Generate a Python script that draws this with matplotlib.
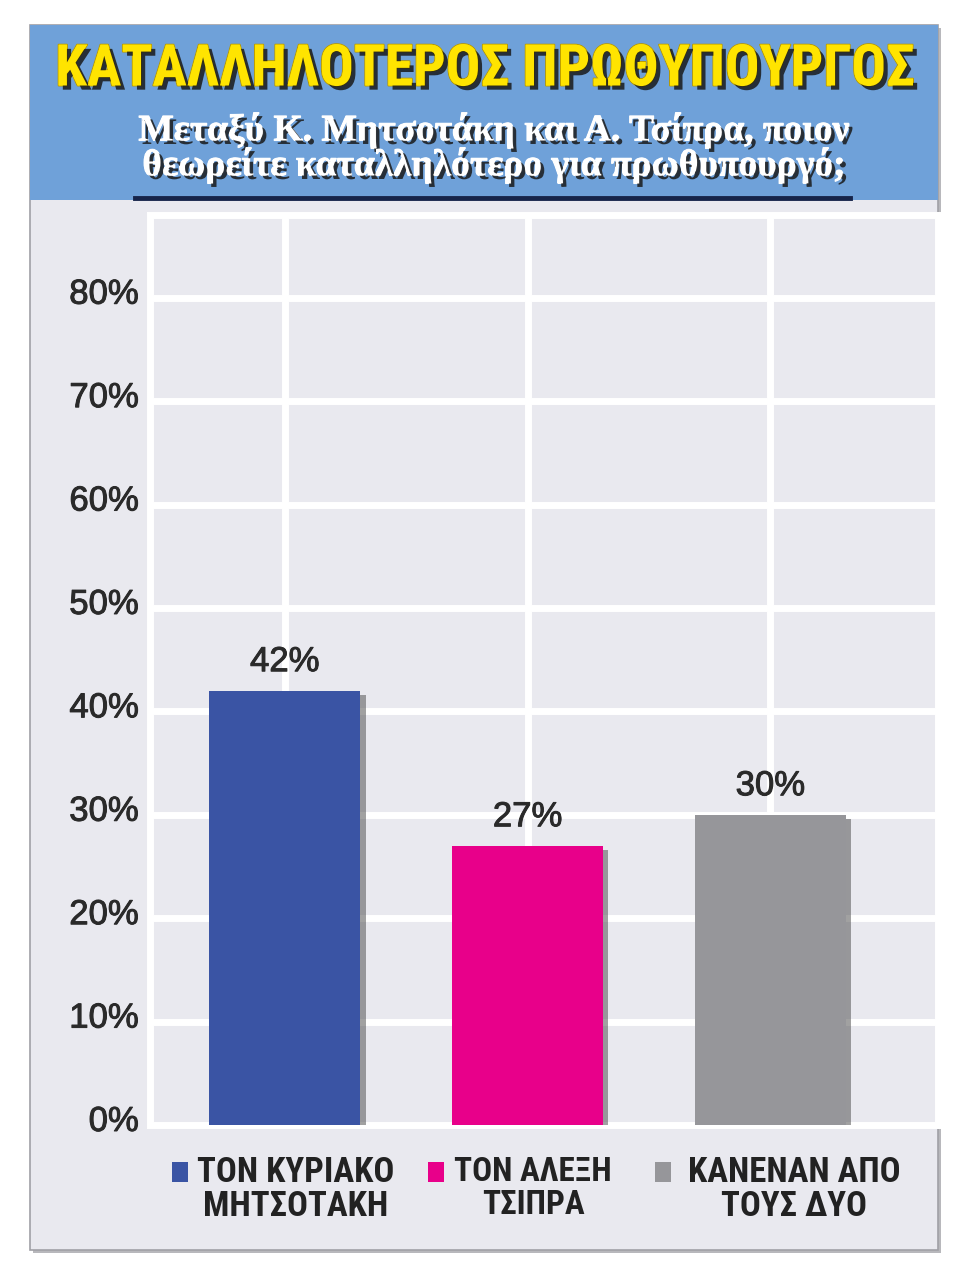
import matplotlib
matplotlib.use("Agg")
import matplotlib.pyplot as plt
from matplotlib.patches import Rectangle
from matplotlib.lines import Line2D
from matplotlib import patheffects as pe
from matplotlib.transforms import ScaledTranslation

# ---- data ----
categories = ["ΤΟΝ ΚΥΡΙΑΚΟ\nΜΗΤΣΟΤΑΚΗ", "ΤΟΝ ΑΛΕΞΗ\nΤΣΙΠΡΑ", "ΚΑΝΕΝΑΝ ΑΠΟ\nΤΟΥΣ ΔΥΟ"]
values = [42, 27, 30]
value_labels = ["42%", "27%", "30%"]
yticks = [0, 10, 20, 30, 40, 50, 60, 70, 80]
ytick_labels = ["0%", "10%", "20%", "30%", "40%", "50%", "60%", "70%", "80%"]
colors = ["#3a54a4", "#e8008a", "#96969a"]
title = "ΚΑΤΑΛΛΗΛΟΤΕΡΟΣ ΠΡΩΘΥΠΟΥΡΓΟΣ"
subtitle_lines = ["Μεταξύ Κ. Μητσοτάκη και Α. Τσίπρα, ποιον",
                  "θεωρείτε καταλληλότερο για πρωθυπουργό;"]

W, H = 962, 1277
fig = plt.figure(figsize=(W / 100, H / 100), dpi=100)
fig.patch.set_facecolor("white")


def fx(x):
    return x / W


def fy(y):
    return 1 - y / H


NARROW = ["Roboto Condensed", "Liberation Sans Narrow", "DejaVu Sans"]
SANS = ["Liberation Sans", "DejaVu Sans"]
SERIF = ["Liberation Serif", "DejaVu Serif"]


def fit(t, target_w):
    r = fig.canvas.get_renderer()
    w = t.get_window_extent(r).width
    if w > target_w:
        t.set_fontsize(t.get_fontsize() * target_w / w)


# panel shadow + panel
fig.add_artist(Rectangle((fx(33), fy(1253)), (938 - 30) / W, (1250 - 25) / H,
                         transform=fig.transFigure, facecolor="#b8b8bc",
                         edgecolor="none", zorder=-3))
fig.add_artist(Rectangle((fx(30), fy(1250)), (938 - 30) / W, (1250 - 25) / H,
                         transform=fig.transFigure, facecolor="#e9e9ef",
                         edgecolor="#a0a0a6", lw=1.2, zorder=-2))
# header
fig.add_artist(Rectangle((fx(30), fy(200)), (938 - 30) / W, (200 - 25) / H,
                         transform=fig.transFigure, facecolor="#6fa1d9",
                         edgecolor="none", zorder=-1))
fig.add_artist(Line2D([fx(135), fx(850)], [fy(198), fy(198)],
                      transform=fig.transFigure, color="#16244a", lw=3.5, zorder=1))

t_title = fig.text(fx(485), fy(70), title, ha="center", va="center", fontsize=42,
                   fontweight="heavy", fontstretch="condensed", color="#ffe400",
                   family=NARROW,
                   path_effects=[pe.withStroke(linewidth=1.4, foreground="#b89a00"),
                                 pe.withSimplePatchShadow(offset=(3, -3), shadow_rgbFace="#1a1a1a", alpha=0.85)])
fit(t_title, 860)

shadow = [pe.withStroke(linewidth=0.8, foreground="white"),
          pe.withSimplePatchShadow(offset=(2.5, -2.5), shadow_rgbFace="#1a1a1a", alpha=0.85)]
for i, line in enumerate(subtitle_lines):
    t = fig.text(fx(494), fy(130 + 35 * i), line, ha="center", va="center",
                 fontsize=27, fontweight="bold", color="white", family=SERIF,
                 path_effects=shadow)
    fit(t, 712)

# axes
ax = fig.add_axes([fx(150), fy(1125), (938 - 150) / W, (1125 - 215) / H])
ax.set_facecolor("#e9e9ef")
x = list(range(len(values)))
bars = ax.bar(x, values, width=0.62, color=colors, zorder=3,
              path_effects=[pe.SimplePatchShadow(offset=(4, -3), shadow_rgbFace="#555555", alpha=0.55),
                            pe.Normal()])
thick = [pe.withStroke(linewidth=0.7, foreground="#2a2a2a")]
for xi, v, lab in zip(x, values, value_labels):
    ax.annotate(lab, (xi, v), xytext=(0, 9), textcoords="offset points",
                ha="center", va="bottom", fontsize=25, color="#2a2a2a",
                family=SANS, zorder=4, path_effects=thick)

ax.set_xlim(-0.555, 2.69)
ax.set_ylim(0, 88)
ax.set_xticks(x)
ax.set_xticklabels([])
ax.set_yticks(yticks)
ax.set_yticklabels(ytick_labels, fontsize=25, color="#2a2a2a", family=SANS)
ax.tick_params(axis="both", length=0)
ax.tick_params(axis="y", pad=8)
off = ScaledTranslation(0, 0.07, fig.dpi_scale_trans)
for lab in ax.get_yticklabels():
    lab.set_transform(lab.get_transform() + off)
    lab.set_path_effects(thick)
ax.grid(True, color="white", lw=5)
ax.set_axisbelow(True)
for s in ax.spines.values():
    s.set_color("white")
    s.set_linewidth(5)

# legend (manual, squares aligned with first line)
leg_sq_x = [172, 428, 655]
leg_txt_cx = [296, 533, 794]
leg_w = [208, 158, 222]
for i, (cat, col) in enumerate(zip(categories, colors)):
    fig.add_artist(Rectangle((fx(leg_sq_x[i]), fy(1182)), 16 / W, 20 / H,
                             transform=fig.transFigure, facecolor=col,
                             edgecolor="none", zorder=2))
    t = fig.text(fx(leg_txt_cx[i]), fy(1156), cat, ha="center", va="top",
                 multialignment="center", fontsize=25, fontweight="bold",
                 fontstretch="condensed", color="#222222", family=NARROW,
                 linespacing=1.05)
    fit(t, leg_w[i])

fig.savefig("out.png", dpi=100)
